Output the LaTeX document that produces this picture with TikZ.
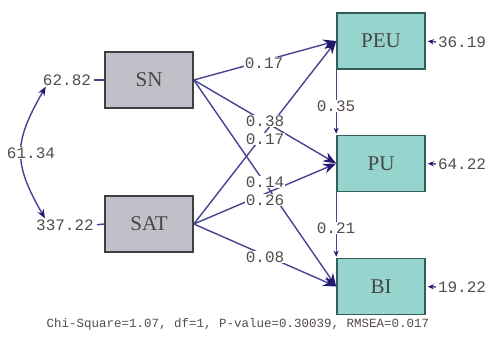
\documentclass[tikz,border=0pt]{standalone}
\usepackage{fontspec}
\setmainfont{Liberation Serif}
\newfontfamily\monof{Liberation Mono}
\usetikzlibrary{arrows.meta}
\definecolor{linec}{RGB}{70,68,145}
\definecolor{headc}{RGB}{35,25,115}
\definecolor{grayfill}{RGB}{192,192,200}
\definecolor{tealfill}{RGB}{150,212,206}
\definecolor{tealdraw}{RGB}{50,95,88}
\definecolor{txtc}{RGB}{85,75,75}
\begin{document}
\begin{tikzpicture}[x=1pt,y=-1pt,
 obs/.style={line width=1.6pt, minimum width=88pt, minimum height=56pt, inner sep=0pt, font=\fontsize{21}{21}\selectfont, text=black!72},
 exo/.style={obs, draw=black!75, fill=grayfill},
 endo/.style={obs, draw=tealdraw, fill=tealfill},
 num/.style={font=\monof\fontsize{16}{16}\selectfont, text=txtc, inner sep=1pt},
 lbl/.style={num, fill=white, inner sep=0.5pt},
 pathc/.style={draw=linec, line width=1.4pt, -{Stealth[length=13pt,width=10pt,color=headc]}},
 smallc/.style={draw=linec, line width=1.4pt, -{Stealth[length=6pt,width=5pt,color=headc]}},
 plainc/.style={draw=linec, line width=1.4pt},
 dblc/.style={draw=linec, line width=1.4pt, {Stealth[length=9pt,width=7pt,color=headc]}-{Stealth[length=9pt,width=7pt,color=headc]}},
]
\useasboundingbox (0,0) rectangle (489,343);
\fill[white] (0,0) rectangle (489,343);

% boxes
\node[exo]  (SN)  at (149,80)    {SN};
\node[exo]  (SAT) at (149,224)   {SAT};
\node[endo] (PEU) at (381,41)    {PEU};
\node[endo] (PU)  at (381,163.5) {PU};
\node[endo] (BI)  at (381,286.5) {BI};

% variance labels
\node[num] (vSN)  at (67,80)  {62.82};
\node[num] (vSAT) at (65,225) {337.22};
\node[num] (ePEU) at (462,42)  {36.19};
\node[num] (ePU)  at (462,164) {64.22};
\node[num] (eBI)  at (462,287) {19.22};

\draw[plainc, shorten <=2pt] (vSN.east) -- (SN.west);
\draw[plainc, shorten <=2pt] (vSAT.east) -- (SAT.west);
\draw[smallc, shorten <=1pt, shorten >=2pt] (ePEU.west) -- (PEU.east);
\draw[smallc, shorten <=1pt, shorten >=2pt] (ePU.west) -- (PU.east);
\draw[smallc, shorten <=1pt, shorten >=2pt] (eBI.west) -- (BI.east);

% covariance
\draw[dblc] ([xshift=4pt]vSN.south west) to[out=240,in=120,looseness=1.25] ([xshift=10pt]vSAT.north west);
\node[lbl] at (31,153) {61.34};

% structural paths
\draw[pathc] (SN.east) -- (PEU.west);
\draw[pathc] (SN.east) -- (PU.west);
\draw[pathc] (SN.east) -- (BI.west);
\draw[pathc] (SAT.east) -- (PEU.west);
\draw[pathc] (SAT.east) -- (PU.west);
\draw[pathc] (SAT.east) -- (BI.west);
\draw[smallc, shorten >=1pt] (PEU.south west) -- (PU.north west);
\draw[smallc, shorten >=1pt] (PU.south west) -- (BI.north west);

% path labels
\node[lbl] at (264,63)  {0.17};
\node[lbl] at (265,139) {0.17};
\node[lbl] at (265,121) {0.38};
\node[lbl] at (265,200) {0.26};
\node[lbl] at (265,182) {0.14};
\node[lbl] at (265,257) {0.08};
\node[lbl] at (336,106) {0.35};
\node[lbl] at (336,228) {0.21};

% fit statistics
\node[num, font=\monof\fontsize{12.5}{12.5}\selectfont] at (238,324) {Chi-Square=1.07, df=1, P-value=0.30039, RMSEA=0.017};
\end{tikzpicture}
\end{document}
